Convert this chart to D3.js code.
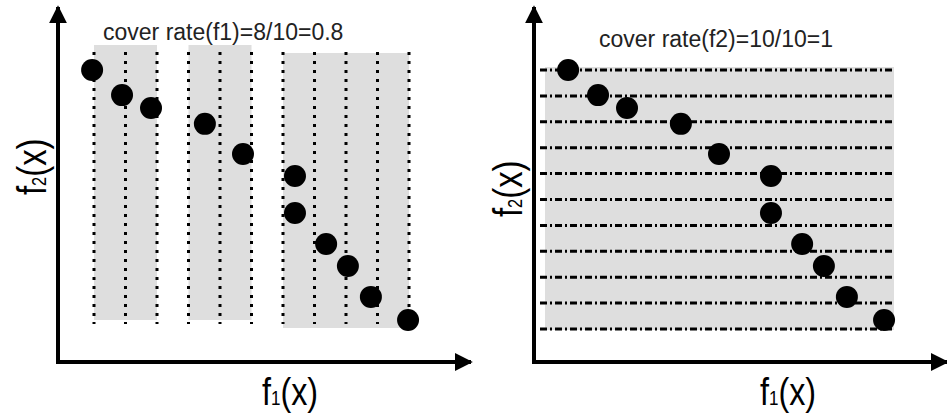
<!DOCTYPE html>
<html>
<head>
<meta charset="UTF-8">
<script src="https://d3js.org/d3.v7.min.js"></script>
<style>
  body { margin: 0; background: #fff; }
  text { font-family: "Liberation Sans", Arial, sans-serif; }
</style>
</head>
<body>
<svg width="947" height="414"></svg>
<script>
// same solution set drawn in both panels (grid units 0..10)
const f1 = [-0.06, 0.89, 1.81, 3.52, 4.73, 6.38, 6.38, 7.37, 8.06, 8.79, 9.97];
const f2 = [10.0, 9.03, 8.53, 7.92, 6.76, 5.91, 4.48, 3.28, 2.43, 1.24, 0.35];
const gridLevels = [0, 1, 2, 3, 4, 5, 6, 7, 8, 9, 10];
const coveredF1 = [[0, 2], [3, 5], [6, 10]];
const coveredF2 = [[0, 10]];
const titles = ["cover rate(f1)=8/10=0.8", "cover rate(f2)=10/10=1"];

const svg = d3.select("svg");

// arrow head
svg.append("defs").append("marker")
    .attr("id", "arrow")
    .attr("viewBox", "0 0 10 10")
    .attr("refX", 9).attr("refY", 5)
    .attr("markerWidth", 4.5).attr("markerHeight", 4.5)
    .attr("markerUnits", "strokeWidth")
    .attr("orient", "auto")
  .append("path")
    .attr("d", "M0,0L10,5L0,10Z")
    .attr("fill", "#000");

const panels = [
  {ox: 58, mode: "f1", title: titles[0], titleX: 103, titleY: 40, yLab: 195, xLab: 262,
   rectY: [[45, 320], [45, 320], [53, 328]]},
  {ox: 534, mode: "f2", title: titles[1], titleX: 599, titleY: 47, yLab: 217, xLab: 760,
   rectY: [[67, 330]]}
];
const oy = 362;

panels.forEach(p => {
  const g = svg.append("g");
  const x = d3.scaleLinear().domain([0, 10]).range([p.ox + 36, p.ox + 351]);
  const y = d3.scaleLinear().domain([0, 10]).range([329, 70]);

  if (p.mode === "f1") {
    g.selectAll("rect.cov").data(coveredF1).join("rect")
      .attr("class", "cov")
      .attr("x", d => x(d[0]))
      .attr("width", d => x(d[1]) - x(d[0]))
      .attr("y", (d, i) => p.rectY[i][0])
      .attr("height", (d, i) => p.rectY[i][1] - p.rectY[i][0])
      .attr("fill", "#dedede");
    g.selectAll("line.grid").data(gridLevels).join("line")
      .attr("class", "grid")
      .attr("x1", d => x(d)).attr("x2", d => x(d))
      .attr("y1", 52).attr("y2", 324)
      .attr("stroke", "#000").attr("stroke-width", 3)
      .attr("stroke-dasharray", "3,6");
  } else {
    g.selectAll("rect.cov").data(coveredF2).join("rect")
      .attr("class", "cov")
      .attr("x", d => x(d[0]) - 25)
      .attr("width", d => x(d[1]) - x(d[0]) + 34)
      .attr("y", (d, i) => p.rectY[i][0])
      .attr("height", (d, i) => p.rectY[i][1] - p.rectY[i][0])
      .attr("fill", "#dedede");
    g.selectAll("line.grid").data(gridLevels).join("line")
      .attr("class", "grid")
      .attr("x1", x(0) - 30).attr("x2", x(10) + 10)
      .attr("y1", d => y(d)).attr("y2", d => y(d))
      .attr("stroke", "#000").attr("stroke-width", 3)
      .attr("stroke-dasharray", "7,3,2,3");
  }

  g.selectAll("circle").data(f1).join("circle")
    .attr("cx", d => x(d))
    .attr("cy", (d, i) => y(f2[i]))
    .attr("r", 11)
    .attr("fill", "#000");

  // axes
  g.append("line")
    .attr("x1", p.ox).attr("y1", oy + 2)
    .attr("x2", p.ox).attr("y2", 7)
    .attr("stroke", "#000").attr("stroke-width", 4)
    .attr("marker-end", "url(#arrow)");
  g.append("line")
    .attr("x1", p.ox - 2).attr("y1", oy)
    .attr("x2", p.ox + 413).attr("y2", oy)
    .attr("stroke", "#000").attr("stroke-width", 4)
    .attr("marker-end", "url(#arrow)");

  g.append("text")
    .attr("x", p.titleX).attr("y", p.titleY)
    .attr("font-size", 23).attr("fill", "#222")
    .text(p.title);

  // f1(x)
  const xl = g.append("text")
    .attr("transform", `translate(${p.xLab},405) scale(0.85,1)`)
    .attr("font-size", 38);
  xl.append("tspan").text("f");
  xl.append("tspan").attr("font-size", 20).text("1");
  xl.append("tspan").text("(x)");

  // f2(x)
  const yl = g.append("text")
    .attr("transform", `translate(${p.ox - 12},${p.yLab}) rotate(-90) scale(0.82,1)`)
    .attr("font-size", 40);
  yl.append("tspan").text("f");
  yl.append("tspan").attr("font-size", 20).text("2");
  yl.append("tspan").text("(x)");
});
</script>
</body>
</html>
